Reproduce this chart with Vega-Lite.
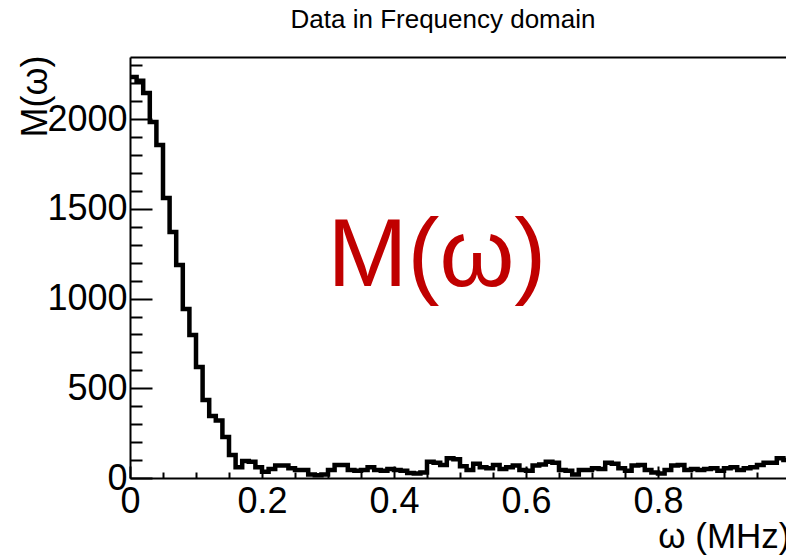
{
  "$schema": "https://vega.github.io/schema/vega-lite/v6.json",
  "width": 656,
  "height": 421,
  "autosize": {"type": "none"},
  "padding": {"left": 130, "top": 57, "right": 0, "bottom": 77},
  "background": "white",
  "config": {"view": {"stroke": null}, "font": "Liberation Sans"},
  "title": {"text": "Data in Frequency domain", "fontSize": 26, "fontWeight": "normal", "font": "Liberation Sans", "color": "black", "anchor": "middle", "dx": -15, "dy": 12, "offset": 26},
  "datasets": {
    "hist": [
      {"omega": 0.00, "M": 2235}, {"omega": 0.01, "M": 2215}, {"omega": 0.02, "M": 2146}, {"omega": 0.03, "M": 1984},
      {"omega": 0.04, "M": 1856}, {"omega": 0.05, "M": 1561}, {"omega": 0.06, "M": 1371}, {"omega": 0.07, "M": 1187},
      {"omega": 0.08, "M": 942}, {"omega": 0.09, "M": 797}, {"omega": 0.10, "M": 619}, {"omega": 0.11, "M": 435},
      {"omega": 0.12, "M": 345}, {"omega": 0.13, "M": 320}, {"omega": 0.14, "M": 229}, {"omega": 0.15, "M": 128},
      {"omega": 0.16, "M": 60}, {"omega": 0.17, "M": 95}, {"omega": 0.18, "M": 90}, {"omega": 0.19, "M": 60},
      {"omega": 0.20, "M": 35}, {"omega": 0.21, "M": 50}, {"omega": 0.22, "M": 70}, {"omega": 0.23, "M": 70},
      {"omega": 0.24, "M": 55}, {"omega": 0.25, "M": 45}, {"omega": 0.26, "M": 45}, {"omega": 0.27, "M": 20},
      {"omega": 0.28, "M": 15}, {"omega": 0.29, "M": 20}, {"omega": 0.30, "M": 45}, {"omega": 0.31, "M": 72},
      {"omega": 0.32, "M": 72}, {"omega": 0.33, "M": 45}, {"omega": 0.34, "M": 40}, {"omega": 0.35, "M": 45},
      {"omega": 0.36, "M": 60}, {"omega": 0.37, "M": 45}, {"omega": 0.38, "M": 40}, {"omega": 0.39, "M": 50},
      {"omega": 0.40, "M": 45}, {"omega": 0.41, "M": 40}, {"omega": 0.42, "M": 28}, {"omega": 0.43, "M": 25},
      {"omega": 0.44, "M": 30}, {"omega": 0.45, "M": 90}, {"omega": 0.46, "M": 85}, {"omega": 0.47, "M": 72},
      {"omega": 0.48, "M": 110}, {"omega": 0.49, "M": 105}, {"omega": 0.50, "M": 65}, {"omega": 0.51, "M": 45},
      {"omega": 0.52, "M": 80}, {"omega": 0.53, "M": 60}, {"omega": 0.54, "M": 55}, {"omega": 0.55, "M": 72},
      {"omega": 0.56, "M": 50}, {"omega": 0.57, "M": 60}, {"omega": 0.58, "M": 70}, {"omega": 0.59, "M": 45},
      {"omega": 0.60, "M": 40}, {"omega": 0.61, "M": 70}, {"omega": 0.62, "M": 75}, {"omega": 0.63, "M": 90},
      {"omega": 0.64, "M": 85}, {"omega": 0.65, "M": 45}, {"omega": 0.66, "M": 40}, {"omega": 0.67, "M": 20},
      {"omega": 0.68, "M": 45}, {"omega": 0.69, "M": 45}, {"omega": 0.70, "M": 55}, {"omega": 0.71, "M": 50},
      {"omega": 0.72, "M": 85}, {"omega": 0.73, "M": 80}, {"omega": 0.74, "M": 55}, {"omega": 0.75, "M": 40},
      {"omega": 0.76, "M": 70}, {"omega": 0.77, "M": 72}, {"omega": 0.78, "M": 45}, {"omega": 0.79, "M": 30},
      {"omega": 0.80, "M": 25}, {"omega": 0.81, "M": 45}, {"omega": 0.82, "M": 70}, {"omega": 0.83, "M": 72},
      {"omega": 0.84, "M": 45}, {"omega": 0.85, "M": 50}, {"omega": 0.86, "M": 45}, {"omega": 0.87, "M": 50},
      {"omega": 0.88, "M": 55}, {"omega": 0.89, "M": 40}, {"omega": 0.90, "M": 55}, {"omega": 0.91, "M": 60},
      {"omega": 0.92, "M": 45}, {"omega": 0.93, "M": 55}, {"omega": 0.94, "M": 60}, {"omega": 0.95, "M": 72},
      {"omega": 0.96, "M": 85}, {"omega": 0.97, "M": 85}, {"omega": 0.98, "M": 110}, {"omega": 0.99, "M": 100},
      {"omega": 1.00, "M": 100}
    ],
    "note": [{"label": "M(ω)", "x": 0.465, "y": 1070}]
  },
  "layer": [
    {
      "data": {"name": "hist"},
      "mark": {"type": "line", "interpolate": "step-after", "color": "black", "strokeWidth": 4.5, "clip": true},
      "encoding": {
        "x": {
          "field": "omega", "type": "quantitative",
          "scale": {"domain": [0, 0.99394], "nice": false, "zero": false},
          "axis": {
            "orient": "bottom",
            "values": [0, 0.05, 0.1, 0.15, 0.2, 0.25, 0.3, 0.35, 0.4, 0.45, 0.5, 0.55, 0.6, 0.65, 0.7, 0.75, 0.8, 0.85, 0.9, 0.95],
            "labelExpr": "round(datum.value*100) % 20 === 0 ? format(datum.value, '~g') : ''",
            "tickSize": {"condition": {"test": "round(datum.value*100) % 20 === 0", "value": -12}, "value": -6},
            "tickColor": "black", "tickWidth": 2,
            "domainColor": "black", "domainWidth": 2,
            "grid": false,
            "labelFontSize": 36, "labelColor": "black", "labelFont": "Liberation Sans",
            "labelFlush": false, "labelOverlap": false, "labelPadding": 18,
            "title": "ω (MHz)", "titleFontSize": 35, "titleFontWeight": "normal", "titleColor": "black",
            "titleFont": "Liberation Sans",
            "titleAnchor": "end", "titleAlign": "right", "titleX": 660, "titleY": 69, "titleBaseline": "alphabetic"
          }
        },
        "y": {
          "field": "M", "type": "quantitative",
          "scale": {"domain": [0, 2347], "nice": false},
          "axis": {
            "orient": "left",
            "values": [0, 100, 200, 300, 400, 500, 600, 700, 800, 900, 1000, 1100, 1200, 1300, 1400, 1500, 1600, 1700, 1800, 1900, 2000, 2100, 2200, 2300],
            "labelExpr": "datum.value % 500 === 0 ? format(datum.value, 'd') : ''",
            "tickSize": {"condition": {"test": "datum.value % 500 === 0", "value": -22}, "value": -12},
            "tickColor": "black", "tickWidth": 2,
            "domainColor": "black", "domainWidth": 2,
            "grid": false,
            "labelFontSize": 36, "labelColor": "black", "labelFont": "Liberation Sans",
            "labelFlush": false, "labelOverlap": false, "labelPadding": 25, "labelBaseline": "middle",
            "title": "M(ω)", "titleFontSize": 36, "titleFontWeight": "normal", "titleColor": "black",
            "titleFont": "Liberation Sans", "titleAngle": -90,
            "titleAnchor": "end", "titleAlign": "right", "titleX": -84, "titleY": -2, "titleBaseline": "alphabetic"
          }
        }
      }
    },
    {
      "data": {"name": "note"},
      "mark": {"type": "text", "fontSize": 96, "color": "#C00000", "font": "Liberation Sans", "align": "center", "baseline": "alphabetic"},
      "encoding": {
        "x": {"field": "x", "type": "quantitative",
          "axis": {"orient": "top", "labels": false, "ticks": false, "title": null, "domain": true, "domainColor": "black", "domainWidth": 2, "grid": false}},
        "y": {"field": "y", "type": "quantitative", "axis": null},
        "text": {"field": "label"}
      }
    }
  ],
  "resolve": {"axis": {"x": "independent", "y": "independent"}}
}
